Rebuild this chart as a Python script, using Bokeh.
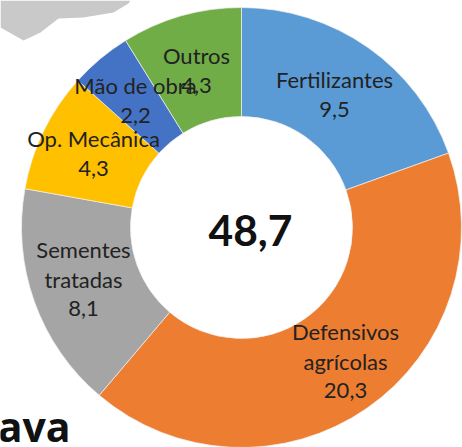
from math import pi
import numpy as np
from bokeh.plotting import figure
from bokeh.models import Range1d, ColumnDataSource
from bokeh.core.properties import value
from bokeh.embed import file_html
from bokeh.resources import INLINE

categories = ["Fertilizantes", "Defensivos agrícolas", "Sementes tratadas", "Op. Mecânica", "Mão de obra", "Outros"]
values = [9.5, 20.3, 8.1, 4.3, 2.2, 4.3]
value_labels = ["9,5", "20,3", "8,1", "4,3", "2,2", "4,3"]
colors = ["#5B9BD5", "#ED7D31", "#A5A5A5", "#FFC000", "#4472C4", "#70AD47"]
total_label = "48,7"
label_lines = [["Fertilizantes", "9,5"], ["Defensivos", "agrícolas", "20,3"], ["Sementes", "tratadas", "8,1"],
               ["Op. Mecânica", "4,3"], ["Mão de obra", "2,2"], ["Outros", "4,3"]]
label_x = [334, 345, 83, 93, 135, 196]
label_y = [79, 331, 249, 138, 85, 55]
LINE = 29.5
cx, cy, r_out, r_in = 241, 227, 220, 111
blob_x = [0, 130, 128, 113, 83, 58, 40, 23, 0]
blob_y = [0, 0, 3, 12, 17, 18, 32, 40, 27]
fs = "22px"

W, H = 462, 447
p = figure(width=W, height=H, output_backend="svg", toolbar_location=None,
           x_range=Range1d(0, W), y_range=Range1d(H, 0), min_border=0)
p.axis.visible = False
p.grid.visible = False
p.outline_line_color = None
p.patch(blob_x, blob_y, fill_color="#c9c9c9", line_color=None)

v = np.array(values)
fr = np.cumsum(np.r_[0, v]) / v.sum()
start = pi / 2 - fr[:-1] * 2 * pi
end = pi / 2 - fr[1:] * 2 * pi
src = ColumnDataSource(dict(s=start, e=end, c=colors))
p.annular_wedge(x=cx, y=cy, inner_radius=r_in, outer_radius=r_out, start_angle="s", end_angle="e",
                direction="clock", fill_color="c", line_color="#f2f2f2", line_width=0.7, source=src)

xs, ys, ts = [], [], []
for lines, x, y in zip(label_lines, label_x, label_y):
    for i, t in enumerate(lines):
        xs.append(x); ys.append(y + i * LINE); ts.append(t)
p.text(xs, ys, text=ts, text_font=value("Lato"), text_font_size=fs, text_color="#222222",
       text_align="center", text_baseline="middle")
p.text([250], [230], text=[total_label], text_font=value("Lato"), text_font_size="42.5px",
       text_font_style="bold", text_color="#111111", text_align="center", text_baseline="middle")
p.text([70], [425], text=["ava"], text_font=value("Open Sans"), text_font_size="41px",
       text_font_style="bold", text_color="#111111", text_align="right", text_baseline="middle")
open("out.html", "w").write(file_html(p, INLINE))
